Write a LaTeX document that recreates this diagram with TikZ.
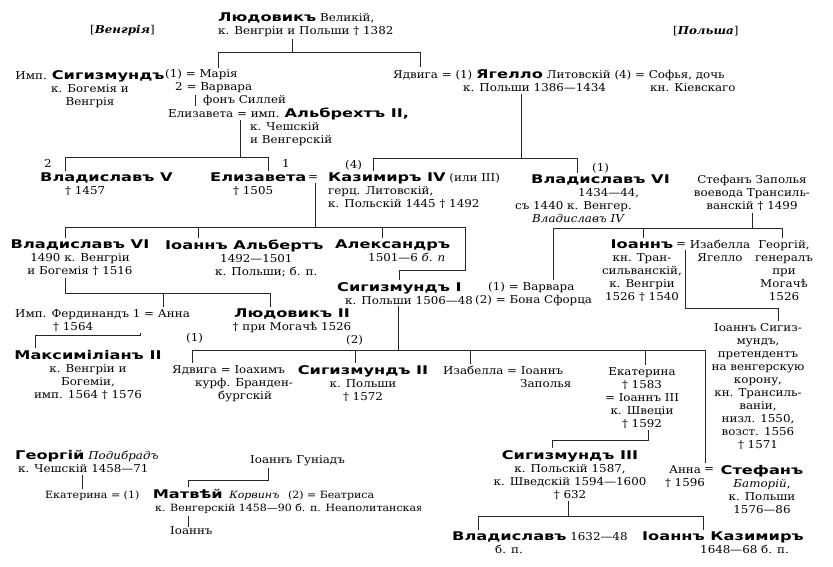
\documentclass[tikz,border=0pt]{standalone}
\usepackage{fontspec}
\setmainfont[FakeStretch=1.1]{DejaVu Serif}
\newfontfamily\namefont[FakeStretch=1.35]{DejaVu Sans}
\newcommand{\pname}[1]{{\namefont\bfseries\fontsize{12}{13}\selectfont #1}}

\tikzset{
	txt/.style={inner sep=0pt, font=\fontsize{10.8}{13}\selectfont},
	lft/.style={txt, align=left, anchor=north west},
	ctr/.style={txt, align=center, anchor=north},
	one/.style={txt, anchor=west},
	line/.style={line width=0.8pt, black!85},
	drop/.style={line, shorten >=2pt}
}

\begin{document}
\begin{tikzpicture}[x=1pt, y=-1pt]
	\useasboundingbox (0,0) rectangle (833,567);

	% Define nodes
	\node[one] (hungary) at (90,31) {[\textbf{\textit{Венгрія}}]};
	\node[one] (poland) at (673,31) {[\textbf{\textit{Польша}}]};

	\node[lft] (ludovik) at (218,13) {\pname{Людовикъ} Великій,\\к. Венгріи и Польши † 1382};

	\node[ctr] (sigismund) at (90,70) {Имп. \pname{Сигизмундъ}\\к. Богемія и\\Венгрія};
	\node[one] (maria) at (165,75) {(1) = Марія};
	\node[one] (varvara) at (175,88) {2 = Варвара};
	\node[one] (silley) at (203,101) {фонъ Силлей};
	\node[one] (elizaveta) at (168,114) {Елизавета = имп. \pname{Альбрехтъ II,}};
	\node[lft] (albrecht) at (250,122) {к. Чешскій\\и Венгерскій};

	\node[one] (jagello) at (393,75) {Ядвига = (1) \pname{Ягелло} Литовскій (4) = Софья, дочь};
	\node[one] (jagellodates) at (463,88) {к. Польши 1386—1434};
	\node[one] (sofia) at (650,88) {кн. Кіевскаго};

	\node[one] (n2) at (44,163) {2};
	\node[one] (n1) at (282,163) {1};
	\node[one] (n4) at (345,165) {(4)};
	\node[one] (n1b) at (592,168) {(1)};

	\node[lft] (vladislav5) at (40,173) {\pname{Владиславъ V}\\\hspace*{25pt}† 1457};
	\node[lft] (elizaveta2) at (210,173) {\pname{Елизавета}\\\hspace*{23pt}† 1505};
	\node[one] (eq1) at (308,178) {=};
	\node[lft] (kazimir) at (328,173) {\pname{Казимиръ IV} (или III)\\герц. Литовскій,\\к. Польскій 1445 † 1492};
	\node[lft] (vladislav6p) at (515,175) {\hspace*{16pt}\pname{Владиславъ VI}\\\hspace*{63pt}1434—44,\\съ 1440 к. Венгер.\\\hspace*{17pt}\textit{Владиславъ IV}};
	\node[ctr] (zapolya) at (752,175) {Стефанъ Заполья\\воевода Трансиль-\\ванскій † 1499};

	\node[ctr] (vladislav6h) at (80,240) {\pname{Владиславъ VI}\\1490 к. Венгріи\\и Богемія † 1516};
	\node[lft] (albert) at (165,240) {\pname{Іоаннъ Альбертъ}\\\hspace*{55pt}1492—1501\\\hspace*{50pt}к. Польши; б. п.};
	\node[lft] (alexander) at (335,240) {\pname{Александръ}\\\hspace*{33pt}1501—6 \textit{б. п}};
	\node[lft] (sigismund1) at (337,282) {\pname{Сигизмундъ I}\\\hspace*{8pt}к. Польши 1506—48};
	\node[lft] (barbara) at (475,282) {\hspace*{13pt}(1) = Варвара\\(2) = Бона Сфорца};
	\node[ctr] (ioannz) at (642,240) {\pname{Іоаннъ}\\кн. Тран-\\сильванскій,\\к. Венгріи\\1526 † 1540};
	\node[one] (eq2) at (676,245) {=};
	\node[ctr] (izabella) at (720,240) {Изабелла\\Ягелло};
	\node[ctr] (georgz) at (784,240) {Георгій,\\генералъ\\при\\Могачѣ\\1526};

	\node[lft] (ferdinand) at (15,309) {Имп. Фердинандъ 1 = Анна\\\hspace*{38pt}† 1564};
	\node[ctr] (ludovik2) at (292,309) {\pname{Людовикъ II}\\† при Могачѣ 1526};
	\node[one] (p1) at (186,338) {(1)};
	\node[one] (p2) at (346,340) {(2)};
	\node[ctr] (maximilian) at (88,350) {\pname{Максиміліанъ II}\\к. Венгріи и\\Богеміи,\\имп. 1564 † 1576};
	\node[lft] (jadwiga2) at (172,365) {Ядвига = Іоахимъ\\\hspace*{23pt}курф. Бранден-\\\hspace*{46pt}бургскій};
	\node[ctr] (sigismund2) at (363,365) {\pname{Сигизмундъ II}\\к. Польши\\† 1572};
	\node[lft] (izabella2) at (443,366) {Изабелла = Іоаннъ\\\hspace*{77pt}Заполья};
	\node[ctr] (ekaterina) at (642,367) {Екатерина\\† 1583\\= Іоаннъ III\\к. Швеціи\\† 1592};
	\node[ctr] (ioannsig) at (758,323) {Іоаннъ Сигиз-\\мундъ,\\претендентъ\\на венгерскую\\корону,\\кн. Трансиль-\\ваніи,\\низл. 1550,\\возст. 1556\\† 1571};

	\node[ctr] (sigismund3) at (570,450) {\pname{Сигизмундъ III}\\к. Польскій 1587,\\к. Шведскій 1594—1600\\† 632};
	\node[ctr] (anna) at (685,465) {Анна\\† 1596};
	\node[one] (eq3) at (704,470) {=};
	\node[ctr] (stefan) at (762,465) {\pname{Стефанъ}\\\textit{Баторій},\\к. Польши\\1576—86};
	\node[lft] (vladislav4) at (452,532) {\pname{Владиславъ} 1632—48\\\hspace*{43pt}б. п.};
	\node[lft] (jkazimir) at (642,532) {\pname{Іоаннъ Казимиръ}\\\hspace*{58pt}1648—68 б. п.};

	\node[lft] (georg) at (15,450) {\pname{Георгій} \textit{Подибрадъ}\\\hspace*{3pt}к. Чешскій 1458—71};
	\node[one] (gunyadi) at (250,461) {Іоаннъ Гуніадъ};
	\node[lft, font=\fontsize{10}{13}\selectfont] (matvei) at (45,489) {Екатерина = (1)\hspace{10pt} \pname{Матвѣй}\hspace{3pt} \textit{Корвинъ}\hspace{5pt} (2) = Беатриса\\\hspace*{110pt}к. Венгерскій 1458—90 б. п. Неаполитанская};
	\node[one] (ioannm) at (170,531) {Іоаннъ};

	% Bus points
	\coordinate (lud) at (292,52);
	\coordinate (lud-l) at (218,52);
	\coordinate (lud-r) at (420,52);
	\coordinate (vt) at (195,95);
	\coordinate (alb) at (240,157);
	\coordinate (alb-l) at (65,157);
	\coordinate (alb-r) at (268,157);
	\coordinate (jag) at (521,158);
	\coordinate (jag-l) at (373,158);
	\coordinate (jag-r) at (577,158);
	\coordinate (kaz) at (315,227);
	\coordinate (kaz-l) at (65,227);
	\coordinate (kaz-a) at (198,227);
	\coordinate (kaz-b) at (382,227);
	\coordinate (kaz-r) at (465,227);
	\coordinate (kaz-c) at (465,270);
	\coordinate (kaz-d) at (399,270);
	\coordinate (zap) at (752,228);
	\coordinate (zap-l) at (553,228);
	\coordinate (zap-m) at (643,228);
	\coordinate (zap-r) at (782,228);
	\coordinate (iz) at (685,308);
	\coordinate (iz-r) at (778,308);
	\coordinate (vh) at (65,293);
	\coordinate (vh-m) at (163,293);
	\coordinate (vh-r) at (270,293);
	\coordinate (fd) at (140,335);
	\coordinate (fd-l) at (35,335);
	\coordinate (sg) at (398,350);
	\coordinate (sg-l) at (192,350);
	\coordinate (sg-a) at (355,350);
	\coordinate (sg-b) at (470,350);
	\coordinate (sg-c) at (645,350);
	\coordinate (sg-r) at (705,350);
	\coordinate (ek) at (648,440);
	\coordinate (ek-l) at (552,440);
	\coordinate (s3) at (568,516);
	\coordinate (s3-l) at (478,516);
	\coordinate (s3-r) at (703,516);
	\coordinate (bx-l) at (12,436);
	\coordinate (bx-r) at (422,436);
	\coordinate (bx-b) at (422,567);
	\coordinate (gg) at (82,476);
	\coordinate (gu) at (268,480);
	\coordinate (gu-l) at (188,480);
	\coordinate (mt) at (188,516);

	% Draw lines
	\draw[line, shorten <=2pt] (ludovik.south -| lud) -- (lud);
	\draw[line] (lud-l) -- (lud-r);
	\draw[drop] (lud-l) -- (lud-l |- maria.north);
	\draw[drop] (lud-r) -- (lud-r |- jagello.north);
	\draw[drop] (vt) -- (vt |- elizaveta.north);

	\draw[line] (alb |- elizaveta.south) -- (alb);
	\draw[line] (alb-l) -- (alb-r);
	\draw[drop] (alb-l) -- (alb-l |- vladislav5.north);
	\draw[drop] (alb-r) -- (alb-r |- elizaveta2.north);

	\draw[line, shorten <=2pt] (jag |- jagellodates.south) -- (jag);
	\draw[line] (jag-l) -- (jag-r);
	\draw[drop] (jag-l) -- (jag-l |- kazimir.north);
	\draw[drop] (jag-r) -- (jag-r |- vladislav6p.north);

	\draw[line, shorten <=2pt] (kaz |- eq1.south) -- (kaz);
	\draw[line] (kaz-l) -- (kaz-r) -- (kaz-c) -- (kaz-d);
	\draw[drop] (kaz-d) -- (kaz-d |- sigismund1.north);
	\draw[drop] (kaz-l) -- (kaz-l |- vladislav6h.north);
	\draw[drop] (kaz-a) -- (kaz-a |- albert.north);
	\draw[drop] (kaz-b) -- (kaz-b |- alexander.north);

	\draw[line, shorten <=2pt] (zapolya.south -| zap) -- (zap);
	\draw[line] (zap-l) -- (zap-r);
	\draw[drop] (zap-l) -- (zap-l |- barbara.north);
	\draw[drop] (zap-m) -- (zap-m |- ioannz.north);
	\draw[drop] (zap-r) -- (zap-r |- georgz.north);

	\draw[line, shorten <=2pt] (iz |- eq2.south) -- (iz) -- (iz-r);
	\draw[drop] (iz-r) -- (iz-r |- ioannsig.north);

	\draw[line, shorten <=2pt] (vladislav6h.south -| vh) -- (vh) -- (vh-r);
	\draw[drop] (vh-r) -- (vh-r |- ludovik2.north);
	\draw[drop] (vh-m) -- (vh-m |- ferdinand.north);

	\draw[line, shorten <=2pt] (ferdinand.south -| fd) -- (fd) -- (fd-l);
	\draw[drop] (fd-l) -- (fd-l |- maximilian.north);

	\draw[line, shorten <=2pt] (sigismund1.south -| sg) -- (sg);
	\draw[line] (sg-l) -- (sg-r);
	\draw[drop] (sg-l) -- (sg-l |- jadwiga2.north);
	\draw[drop] (sg-a) -- (sg-a |- sigismund2.north);
	\draw[drop] (sg-b) -- (sg-b |- izabella2.north);
	\draw[drop] (sg-c) -- (sg-c |- ekaterina.north);
	\draw[drop] (sg-r) -- (sg-r |- anna.north);

	\draw[line, shorten <=2pt] (ekaterina.south -| ek) -- (ek) -- (ek-l);
	\draw[drop] (ek-l) -- (ek-l |- sigismund3.north);

	\draw[line, shorten <=2pt] (sigismund3.south -| s3) -- (s3);
	\draw[line] (s3-l) -- (s3-r);
	\draw[drop] (s3-l) -- (s3-l |- vladislav4.north);
	\draw[drop] (s3-r) -- (s3-r |- jkazimir.north);

	\draw[line, double, double distance=1.2pt] (bx-l) -- (bx-r) -- (bx-b);
	\draw[line, shorten <=2pt] (georg.south -| gg) -- (gg |- matvei.north);
	\draw[line, shorten <=2pt] (gunyadi.south -| gu) -- (gu) -- (gu-l);
	\draw[drop] (gu-l) -- (gu-l |- matvei.north);
	\draw[line] (mt) -- (mt |- ioannm.north);
\end{tikzpicture}
\end{document}
